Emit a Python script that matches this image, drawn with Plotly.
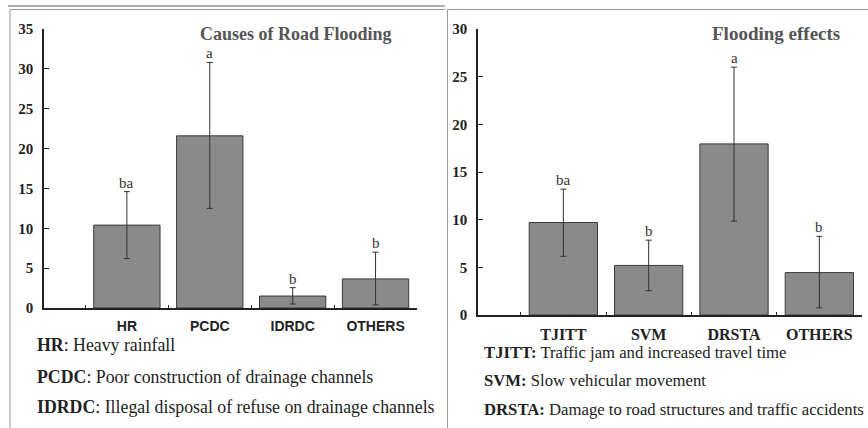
import plotly.graph_objects as go

W, H = 868, 428

# ---- data ----
cause_cats = ["HR", "PCDC", "IDRDC", "OTHERS"]
cause_vals = [10.4, 21.6, 1.5, 3.65]
cause_err_hi = [14.6, 30.8, 2.55, 7.0]
cause_err_lo = [6.2, 12.5, 0.5, 0.4]
cause_letters = ["ba", "a", "b", "b"]
cause_yticks = [0, 5, 10, 15, 20, 25, 30, 35]

effect_cats = ["TJITT", "SVM", "DRSTA", "OTHERS"]
effect_vals = [9.7, 5.2, 17.95, 4.45]
effect_err_hi = [13.2, 7.85, 26.0, 8.25]
effect_err_lo = [6.15, 2.55, 9.85, 0.75]
effect_letters = ["ba", "b", "a", "b"]
effect_yticks = [0, 5, 10, 15, 20, 25, 30]

cause_notes = [("HR", "Heavy rainfall"),
               ("PCDC", "Poor construction of drainage channels"),
               ("IDRDC", "Illegal disposal of refuse on drainage channels")]
effect_notes = [("TJITT", "Traffic jam and increased travel time"),
                ("SVM", "Slow vehicular movement"),
                ("DRSTA", "Damage to road structures and traffic accidents")]

SERIF = "Liberation Serif"
SANS = "Liberation Sans"
BAR = "#8a8a8a"
EDGE = "#3a3a3a"
INK = "#222222"

def px(x):
    return x / W

def py(y):
    return 1 - y / H

fig = go.Figure()

def add_panel(cats, vals, hi, lo, letters, xa, ya):
    fig.add_trace(go.Bar(
        x=cats, y=vals, width=0.8, xaxis=xa, yaxis=ya,
        marker=dict(color=BAR, line=dict(color=EDGE, width=1)),
        error_y=dict(type="data", symmetric=False,
                     array=[h - v for h, v in zip(hi, vals)],
                     arrayminus=[v - l for v, l in zip(vals, lo)],
                     color="#333333", thickness=1, width=3),
        showlegend=False, hoverinfo="skip"))
    for c, h, t in zip(cats, hi, letters):
        fig.add_annotation(x=c, y=h, xref=xa, yref=ya, text=t,
                           showarrow=False, yanchor="bottom", yshift=-1,
                           font=dict(family=SERIF, size=15, color="#333333"))

add_panel(cause_cats, cause_vals, cause_err_hi, cause_err_lo, cause_letters, "x", "y")
add_panel(effect_cats, effect_vals, effect_err_hi, effect_err_lo, effect_letters, "x2", "y2")

xcommon = dict(type="category", range=[-1, 3.5], showline=True, linecolor=INK,
               linewidth=1.5, ticks="inside", tickson="boundaries", ticklen=3,
               tickcolor=INK, showgrid=False, zeroline=False, ticklabelstandoff=4,
               automargin=False)
ycommon = dict(showline=True, linecolor=INK, linewidth=1.5, ticks="inside",
               ticklen=5, tickcolor=INK, showgrid=False, zeroline=False,
               ticklabelstandoff=6, automargin=False,
               tickfont=dict(family=SERIF, size=15, color=INK, weight="bold"))

fig.update_layout(
    template="none",
    width=W, height=H, margin=dict(l=0, r=0, t=0, b=0, pad=0),
    paper_bgcolor="white", plot_bgcolor="white",
    font=dict(family=SERIF, color=INK),
    xaxis=dict(domain=[px(44), px(417)], anchor="y",
               tickfont=dict(family=SANS, size=14, color=INK, weight="bold"), **xcommon),
    yaxis=dict(domain=[py(308), py(29)], anchor="x", range=[0, 35],
               tickvals=cause_yticks, **ycommon),
    xaxis2=dict(domain=[px(478), px(862)], anchor="y2",
                tickfont=dict(family=SERIF, size=16, color=INK, weight="bold"), **xcommon),
    yaxis2=dict(domain=[py(315), py(29)], anchor="x2", range=[0, 30],
                tickvals=effect_yticks, **ycommon),
)

# titles
fig.add_annotation(x=px(296), y=py(34), xref="paper", yref="paper",
                   xanchor="center", yanchor="middle",
                   text="<b>Causes of Road Flooding</b>", showarrow=False,
                   font=dict(family=SERIF, size=18, color="#555555"))
fig.add_annotation(x=px(776), y=py(33), xref="paper", yref="paper",
                   xanchor="center", yanchor="middle",
                   text="<b>Flooding effects</b>", showarrow=False,
                   font=dict(family=SERIF, size=19, color="#555555"))

# notes
for (k, v), yc in zip(cause_notes, [345, 376.5, 407]):
    fig.add_annotation(x=px(35), y=py(yc), xref="paper", yref="paper",
                       xanchor="left", yanchor="middle", showarrow=False,
                       text=f"<b>{k}</b>: {v}",
                       font=dict(family=SERIF, size=17.8, color=INK))
for (k, v), yc in zip(effect_notes, [352, 380.5, 409]):
    fig.add_annotation(x=px(482), y=py(yc), xref="paper", yref="paper",
                       xanchor="left", yanchor="middle", showarrow=False,
                       text=f"<b>{k}:</b> {v}",
                       font=dict(family=SERIF, size=16.7, color=INK))

# panel frames
frame = dict(color="#9a9a9a", width=1)
fig.add_shape(type="line", xref="paper", yref="paper",
              x0=px(8), x1=px(445), y0=py(6), y1=py(6),
              line=dict(color="#b0b0b0", width=2))
fig.add_shape(type="line", xref="paper", yref="paper",
              x0=px(10), x1=px(445), y0=py(9.5), y1=py(9.5), line=frame)
fig.add_shape(type="line", xref="paper", yref="paper",
              x0=px(10), x1=px(10), y0=py(9.5), y1=py(428), line=frame)
fig.add_shape(type="line", xref="paper", yref="paper",
              x0=px(447.5), x1=px(447.5), y0=py(9.5), y1=py(428), line=frame)
fig.add_shape(type="line", xref="paper", yref="paper",
              x0=px(447.5), x1=px(868), y0=py(9.5), y1=py(9.5), line=frame)

fig.write_html("out.html", config={"displayModeBar": False},
               post_script="document.body.style.margin='0';document.body.style.overflow='hidden';")
